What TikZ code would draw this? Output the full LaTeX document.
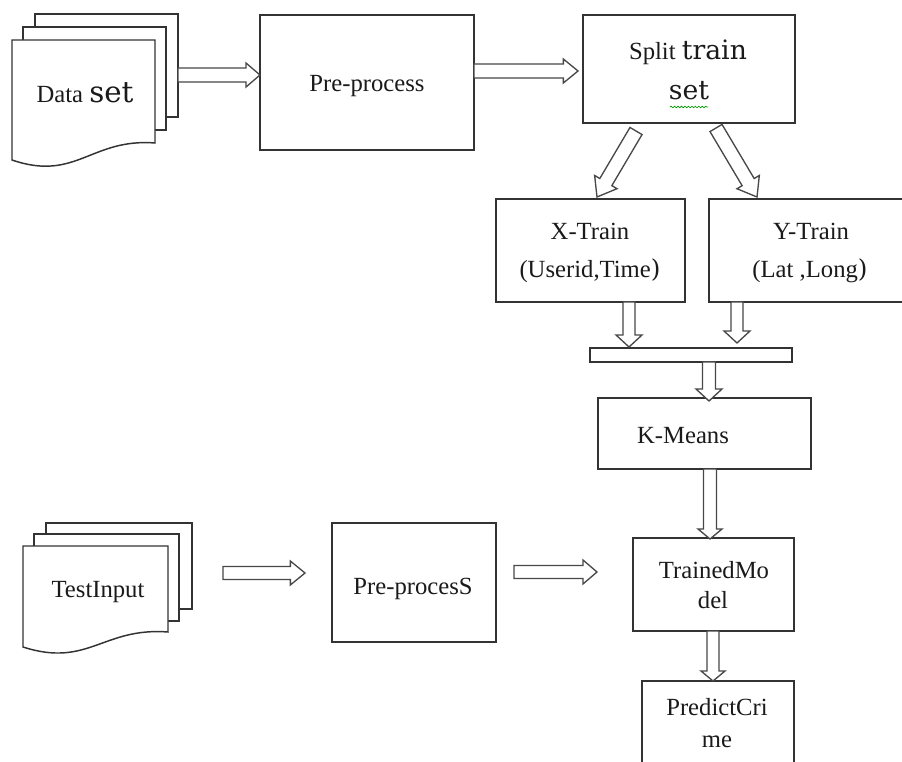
\documentclass[tikz,border=0pt]{standalone}
\usepackage{fontspec}
\setmainfont{Liberation Serif}
\newfontfamily\cambria{DejaVu Serif}
\usetikzlibrary{calc,fit,decorations.pathmorphing}
\definecolor{linecol}{HTML}{333333}
\definecolor{arrcol}{HTML}{484848}
\definecolor{txtcol}{HTML}{1A1A1A}
\tikzset{
  box/.style={draw=linecol, line width=1.1pt, fill=white, inner sep=0pt, rectangle},
  page/.style={draw=linecol, line width=1.1pt, fill=white, inner sep=0pt, rectangle},
  lbl/.style={anchor=base, inner sep=0pt, text=txtcol, font=\fontsize{18.5}{22}\selectfont},
  fat/.style n args={3}{fill=white, draw=arrcol, line width=1pt, line join=miter,
    to path={
      ($(\tikztostart)!#1!90:(\tikztotarget)$) --
      ($($(\tikztotarget)!#3!(\tikztostart)$)!#1!90:(\tikztotarget)$) --
      ($($(\tikztotarget)!#3!(\tikztostart)$)!#2!90:(\tikztotarget)$) --
      (\tikztotarget) --
      ($($(\tikztotarget)!#3!(\tikztostart)$)!#2!-90:(\tikztotarget)$) --
      ($($(\tikztotarget)!#3!(\tikztostart)$)!#1!-90:(\tikztotarget)$) --
      ($(\tikztostart)!#1!-90:(\tikztotarget)$) -- cycle
    }}
}
\begin{document}
\begin{tikzpicture}[x=0.75pt,y=-0.75pt]
\useasboundingbox (0,0) rectangle (902,762);
\clip (0,0) rectangle (902,762);
\fill[white] (0,0) rectangle (902,762);

% Data set document stack
\node[page, fit={(35,14) (178,117)}] (dsback) {};
\node[page, fit={(23,27) (166,130)}] (dsmid) {};
\draw[page] (12,40) -- (155,40) -- (155,143) .. controls (91,138) and (76,182) .. (12,160) -- cycle;
\node[lbl] (tdata) at (85,103) {Data {\cambria\fontsize{22}{24}\selectfont set}};

% Pre-process
\node[box, fit={(260,15) (474,150)}] (pre) {};
\node[lbl] (tpre) at (367,92) {Pre-process};

% Split train set
\node[box, fit={(583,15) (795,123)}] (split) {};
\node[lbl] (tsplit) at (688,60) {Split {\cambria\fontsize{20}{24}\selectfont train}};
\node[lbl, font=\cambria\fontsize{20}{24}\selectfont] (tset) at (689,100) {set};
\draw[green!60!black, line width=0.5pt, decorate, decoration={snake, amplitude=0.6pt, segment length=2.6pt}] (670,107) -- (708,107);

% X-Train / Y-Train
\node[box, fit={(496,199) (685,302)}] (xtrain) {};
\node[lbl] (tx1) at (590,240) {X-Train};
\node[lbl] (tx2) at (590,278) {(Userid,Time{\cambria )}};
\node[box, fit={(709,199) (920,302)}] (ytrain) {};
\node[lbl] (ty1) at (811,240) {Y-Train};
\node[lbl] (ty2) at (810,278) {(Lat ,Long{\cambria )}};

% bar
\node[box, fit={(590,348) (792,362)}] (bar) {};

% K-Means
\node[box, fit={(598,398) (811,469)}] (kmeans) {};
\node[lbl] (tk) at (683,443) {K-Means};

% Trained model
\node[box, fit={(633,538) (794,631)}] (trained) {};
\node[lbl] (tt1) at (714,578) {TrainedMo};
\node[lbl] (tt2) at (713,608) {del};

% Predict crime
\node[box, fit={(642,681) (794,800)}] (predict) {};
\node[lbl] (tp1) at (717,715) {PredictCri};
\node[lbl] (tp2) at (717,747) {me};

% TestInput document stack
\node[page, fit={(46,523) (192,609)}] (tiback) {};
\node[page, fit={(34,534) (179,621)}] (timid) {};
\draw[page] (23,546) -- (168,546) -- (168,632) .. controls (103,627) and (88,668) .. (23,647) -- cycle;
\node[lbl] (ttest) at (98,597) {TestInput};

% Pre-processS
\node[box, fit={(332,523) (496,642)}] (preS) {};
\node[lbl] (tpreS) at (413,594) {Pre-procesS};

% arrow end points
\coordinate (a1s) at (178,75);  \coordinate (a1e) at (260,75);
\coordinate (a2s) at (474,71);  \coordinate (a2e) at (578,71);
\coordinate (a3s) at (636,131); \coordinate (a3e) at (597,197);
\coordinate (a4s) at (716,128); \coordinate (a4e) at (757,197);
\coordinate (a5s) at (629,302); \coordinate (a5e) at (629,347);
\coordinate (a6s) at (737,302); \coordinate (a6e) at (737,343);
\coordinate (a7s) at (709,362); \coordinate (a7e) at (709,401);
\coordinate (a8s) at (710,469); \coordinate (a8e) at (710,539);
\coordinate (a9s) at (713,631); \coordinate (a9e) at (713,681);
\coordinate (a10s) at (223,573); \coordinate (a10e) at (305,573);
\coordinate (a11s) at (514,572); \coordinate (a11e) at (597,572);

\draw[fat={5.25pt}{9pt}{10.5pt}] (a1s) to (a1e);
\draw[fat={5.25pt}{9pt}{11pt}] (a2s) to (a2e);
\draw[fat={5.25pt}{9.75pt}{13pt}] (a3s) to (a3e);
\draw[fat={5.25pt}{9.75pt}{13pt}] (a4s) to (a4e);
\draw[fat={4.5pt}{9.75pt}{9pt}] (a5s) to (a5e);
\draw[fat={4.5pt}{9.75pt}{9pt}] (a6s) to (a6e);
\draw[fat={4.9pt}{9.75pt}{9pt}] (a7s) to (a7e);
\draw[fat={4.9pt}{9pt}{7.5pt}] (a8s) to (a8e);
\draw[fat={4.5pt}{9pt}{7.5pt}] (a9s) to (a9e);
\draw[fat={4.9pt}{9pt}{11pt}] (a10s) to (a10e);
\draw[fat={4.9pt}{9pt}{10.5pt}] (a11s) to (a11e);
\end{tikzpicture}
\end{document}
